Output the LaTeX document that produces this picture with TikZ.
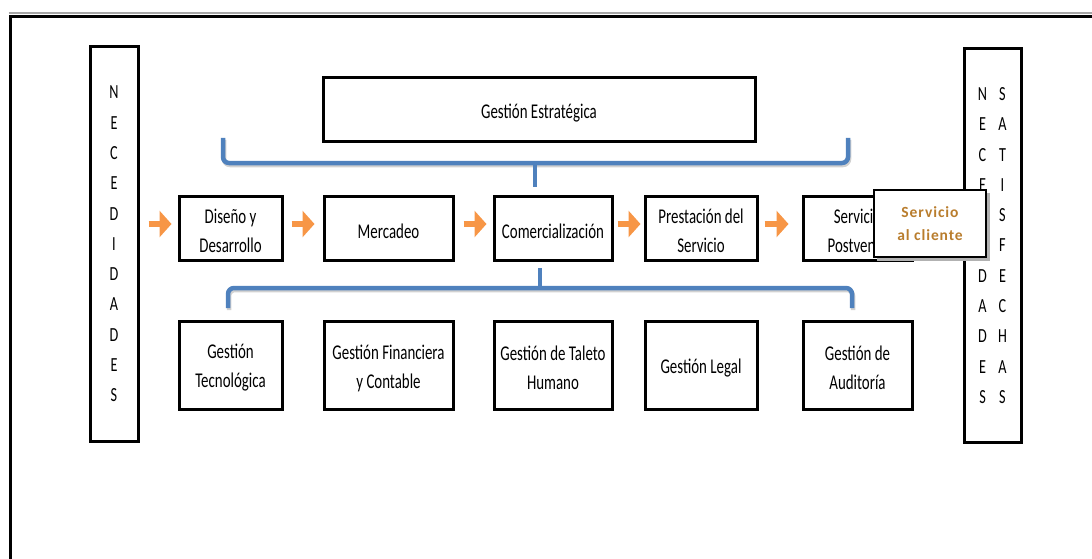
\documentclass[tikz,border=0pt]{standalone}
\usepackage{fontspec}
\setmainfont{Carlito}[FakeStretch=0.71]
\newfontfamily\calfont{Carlito}[LetterSpace=6]
\usetikzlibrary{arrows.meta,calc}
\definecolor{brblue}{RGB}{79,129,189}
\definecolor{arrorange}{RGB}{247,150,70}
\definecolor{calgold}{RGB}{185,125,45}
\tikzset{
  pbox/.style={draw,line width=3pt,fill=white,inner sep=0pt},
  ptext/.style={align=center,inner sep=0pt,yshift=-3pt,
    font=\fontsize{21}{29}\selectfont},
  tallbox/.style={draw,line width=3pt,fill=white,align=center,inner sep=0pt,
    font=\fontsize{20}{30.3}\selectfont},
  brace/.style={draw=brblue,line width=4.5pt,rounded corners=6pt},
  braceshadow/.style={draw=black!18,line width=4.5pt,rounded corners=6pt},
  oarr/.style={draw=arrorange,line width=6.5pt,-{Triangle[length=12pt,width=26pt]}},
  callbox/.style={draw,line width=2.5pt,fill=white,align=center,
    font=\calfont\fontsize{15.5}{23}\selectfont\bfseries,text=calgold}
}
\begin{document}
\begin{tikzpicture}[x=1pt,y=-1pt]
\useasboundingbox (0,0) rectangle (1092,559);
\clip (0,0) rectangle (1092,559);
% outer frame
\draw[black!35,line width=2pt] (8.5,13) -- (1100,13);
\draw[line width=3.5pt] (10.5,16.5) rectangle (1110,580);

% tall boxes
\node[tallbox,minimum width=48pt,minimum height=394pt] (lft) at (114,244)
  {N\\E\\C\\E\\D\\I\\D\\A\\D\\E\\S};
\node[tallbox,minimum width=57pt,minimum height=393pt] (rgt) at (992.5,245.5)
  {\makebox[20pt]{N}\makebox[20pt]{S}\\\makebox[20pt]{E}\makebox[20pt]{A}\\
   \makebox[20pt]{C}\makebox[20pt]{T}\\\makebox[20pt]{E}\makebox[20pt]{I}\\
   \makebox[20pt]{S}\makebox[20pt]{S}\\\makebox[20pt]{I}\makebox[20pt]{F}\\
   \makebox[20pt]{D}\makebox[20pt]{E}\\\makebox[20pt]{A}\makebox[20pt]{C}\\
   \makebox[20pt]{D}\makebox[20pt]{H}\\\makebox[20pt]{E}\makebox[20pt]{A}\\
   \makebox[20pt]{S}\makebox[20pt]{S}};

% strategic box
\node[pbox,minimum width=432pt,minimum height=64pt,label={[ptext]center:Gestión Estratégica}] (est) at (539,110) {};

% process row
\node[pbox,minimum width=103pt,minimum height=64pt,label={[ptext]center:{Diseño y\\Desarrollo}}] (dis) at (230.5,228) {};
\node[pbox,minimum width=129pt,minimum height=64pt,label={[ptext]center:Mercadeo}] (mer) at (388.5,228) {};
\node[pbox,minimum width=118pt,minimum height=64pt,label={[ptext]center:Comercialización}] (com) at (553,228) {};
\node[pbox,minimum width=112pt,minimum height=64pt,label={[ptext]center:{Prestación del\\Servicio}}] (pre) at (701,228) {};
\node[pbox,minimum width=109pt,minimum height=64pt,label={[ptext]center:{Servicio\\Postventa}}] (pos) at (857.5,228) {};

% support row
\node[pbox,minimum width=103pt,minimum height=88pt,label={[ptext]center:{Gestión\\Tecnológica}}] (tec) at (230.5,365) {};
\node[pbox,minimum width=129pt,minimum height=88pt,label={[ptext]center:{Gestión Financiera\\y Contable}}] (fin) at (388.5,365) {};
\node[pbox,minimum width=118pt,minimum height=88pt,label={[ptext]center:{Gestión de Taleto\\Humano}}] (tal) at (553,365) {};
\node[pbox,minimum width=112pt,minimum height=88pt,label={[ptext]center:Gestión Legal}] (leg) at (701,365) {};
\node[pbox,minimum width=109pt,minimum height=88pt,label={[ptext]center:{Gestión de\\Auditoría}}] (aud) at (857.5,365) {};

% callout
\fill[black!30] (877,193) rectangle (990,261);
\node[callbox,minimum width=112pt,minimum height=67pt] (cli) at (930,223.5) {Servicio\\al cliente};

% top brace
\coordinate (tb1) at (223,138);
\coordinate (tb2) at (848,138);
\coordinate (tbm) at (535,163);
\coordinate (tbt) at (535,187);
\draw[braceshadow] ($(tb1)+(1,2)$) |- ($(tbm)+(1,2)$) -| ($(tb2)+(1,2)$);
\draw[brace] (tb1) |- (tbm) -| (tb2);
\draw[brace,rounded corners=0pt] (tbm) -- (tbt);

% bottom brace
\coordinate (bb1) at (228,308);
\coordinate (bb2) at (852,308);
\coordinate (bbm) at (540,288);
\coordinate (bbt) at (540,268);
\draw[braceshadow] ($(bb1)+(1,2)$) |- ($(bbm)+(1,2)$) -| ($(bb2)+(1,2)$);
\draw[brace] (bb1) |- (bbm) -| (bb2);
\draw[brace,rounded corners=0pt] (bbm) -- (bbt);

% orange arrows
\draw[oarr,shorten <=9pt,shorten >=6pt] ($(lft.east|-dis.west)+(0,-4)$) -- ($(dis.west)+(0,-4)$);
\draw[oarr,shorten <=8pt,shorten >=8pt] ($(dis.east)+(0,-4)$) -- ($(mer.west)+(0,-4)$);
\draw[oarr,shorten <=9pt,shorten >=6pt] ($(mer.east)+(0,-4)$) -- ($(com.west)+(0,-4)$);
\draw[oarr,shorten <=4pt,shorten >=3pt] ($(com.east)+(0,-4)$) -- ($(pre.west)+(0,-4)$);
\draw[oarr,shorten <=6pt,shorten >=13pt] ($(pre.east)+(0,-4)$) -- ($(pos.west)+(0,-4)$);
\end{tikzpicture}
\end{document}
